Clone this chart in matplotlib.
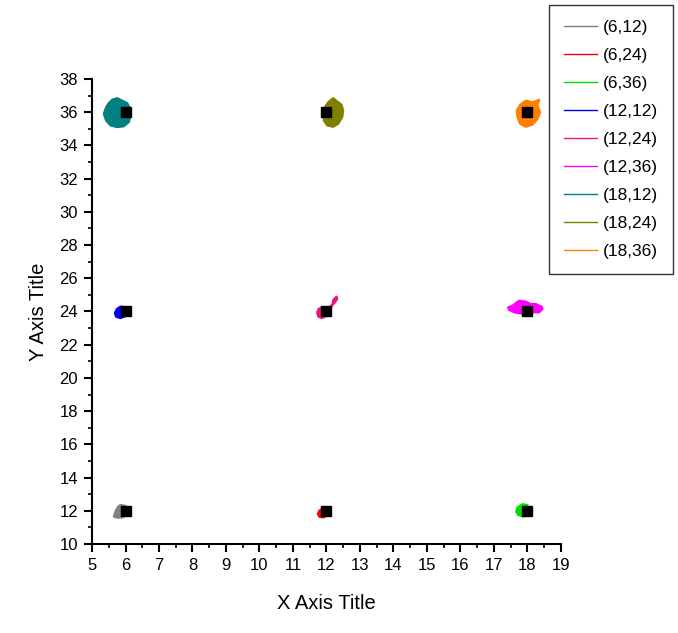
import matplotlib
matplotlib.use("Agg")
import matplotlib.pyplot as plt
from matplotlib.lines import Line2D
from matplotlib.ticker import MultipleLocator

plt.rcParams['font.family'] = ['Liberation Sans', 'DejaVu Sans']

# legend labels and colours, in legend order
labels = ['(6,12)', '(6,24)', '(6,36)', '(12,12)', '(12,24)', '(12,36)',
          '(18,12)', '(18,24)', '(18,36)']
colors = ['#808080', '#ff0000', '#00e000', '#0000ff', '#f0147e', '#ff00ff',
          '#008080', '#808000', '#ff8000']

# target points (black squares)
target_x = [6, 12, 18, 6, 12, 18, 6, 12, 18]
target_y = [12, 12, 12, 24, 24, 24, 36, 36, 36]

# outlines of the trajectory clouds (one list of pieces per series)
cloud_gray = [([5.85, 6.0, 6.0, 5.9, 5.75, 5.65, 5.68, 5.72, 5.78],
               [12.35, 12.3, 11.7, 11.6, 11.58, 11.65, 11.85, 12.05, 12.25])]
cloud_red = [([11.92, 12.02, 12.02, 11.92, 11.8, 11.74, 11.78],
              [12.2, 12.1, 11.75, 11.6, 11.62, 11.8, 12.0])]
cloud_green = [([17.85, 18.0, 18.0, 17.85, 17.72, 17.66, 17.7],
                [12.4, 12.35, 11.7, 11.65, 11.75, 11.95, 12.2])]
cloud_blue = [([5.85, 6.0, 6.06, 5.98, 5.85, 5.72, 5.68, 5.74],
               [24.3, 24.25, 23.95, 23.7, 23.6, 23.68, 23.9, 24.15])]
cloud_pink = [([11.85, 12.0, 12.05, 11.98, 11.85, 11.75, 11.72, 11.76],
               [24.25, 24.2, 23.95, 23.7, 23.6, 23.7, 23.95, 24.15]),
              ([12.05, 12.18, 12.2, 12.3, 12.32, 12.25, 12.15, 12.1],
               [24.15, 24.45, 24.7, 24.9, 24.75, 24.55, 24.3, 24.1])]
cloud_magenta = [([17.55, 17.75, 17.95, 18.1, 18.25, 18.42, 18.45, 18.35, 18.15, 18.0,
                   17.8, 17.6, 17.45, 17.42],
                  [24.35, 24.65, 24.6, 24.45, 24.45, 24.3, 24.15, 23.95, 23.95, 23.85,
                   23.88, 23.95, 24.1, 24.25])]
cloud_teal = [([5.75, 5.9, 6.05, 6.15, 6.15, 6.1, 5.95, 5.75, 5.55, 5.42, 5.35, 5.42, 5.5, 5.6],
               [36.85, 36.7, 36.55, 36.2, 35.8, 35.4, 35.15, 35.1, 35.2, 35.5, 35.9, 36.3,
                36.55, 36.75])]
cloud_olive = [([12.2, 12.32, 12.45, 12.5, 12.47, 12.35, 12.2, 12.02, 11.92, 11.9, 11.95, 12.05],
                [36.85, 36.65, 36.45, 36.1, 35.7, 35.3, 35.12, 35.2, 35.5, 35.9, 36.3, 36.6])]
cloud_orange = [([17.95, 18.15, 18.35, 18.3, 18.38, 18.3, 18.15, 17.95, 17.78, 17.7, 17.68, 17.78],
                 [36.7, 36.6, 36.75, 36.4, 36.0, 35.6, 35.25, 35.12, 35.3, 35.7, 36.1, 36.45])]

clouds = [cloud_gray, cloud_red, cloud_green, cloud_blue, cloud_pink, cloud_magenta,
          cloud_teal, cloud_olive, cloud_orange]

fig = plt.figure(figsize=(6.78, 6.33), dpi=100)
ax = fig.add_axes([0.1357, 0.1406, 0.6917, 0.7346])

for pieces, c in zip(clouds, colors):
    for xs, ys in pieces:
        ax.fill(xs, ys, color=c, lw=1.5, joinstyle='round')

ax.plot(target_x, target_y, 's', color='black', ms=6.5, ls='none')

ax.set_xlim(5, 19)
ax.set_ylim(10, 38)
ax.xaxis.set_major_locator(MultipleLocator(1))
ax.xaxis.set_minor_locator(MultipleLocator(0.5))
ax.yaxis.set_major_locator(MultipleLocator(2))
ax.yaxis.set_minor_locator(MultipleLocator(1))

for s in ['top', 'right']:
    ax.spines[s].set_visible(False)
for s in ['left', 'bottom']:
    ax.spines[s].set_linewidth(1.5)
ax.tick_params(which='major', direction='out', length=6, width=1.5, labelsize=12, pad=4)
ax.tick_params(which='minor', direction='out', length=3, width=1.2)

ax.set_xlabel('X Axis Title', fontsize=14.5, labelpad=15)
ax.set_ylabel('Y Axis Title', fontsize=14.5, labelpad=8)

handles = [Line2D([], [], color=c, lw=1) for c in colors]
leg = fig.legend(handles, labels, loc='upper left', bbox_to_anchor=(549 / 678, 1 - 5 / 633),
                 bbox_transform=fig.transFigure, borderaxespad=0, fontsize=12.5,
                 frameon=True, fancybox=False, edgecolor='black', handlelength=1.9,
                 handletextpad=0.35, labelspacing=0.74, borderpad=0.85)
leg.get_frame().set_linewidth(1.0)

fig.savefig('out.png', dpi=100)
